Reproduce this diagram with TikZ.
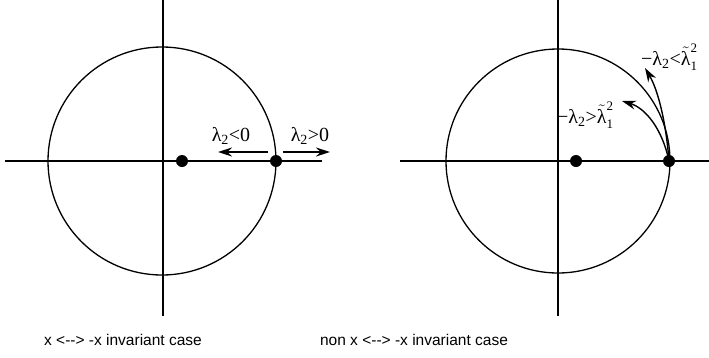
\documentclass[tikz,border=0pt]{standalone}
\usepackage{fontspec}
\setmainfont{Liberation Sans}[Ligatures=TeXOff]
\newfontfamily\serif{Liberation Serif}
\usetikzlibrary{arrows.meta}
\newcommand{\scr}[1]{\hbox{\serif\fontsize{13}{13}\selectfont #1}}
\newcommand{\tlam}{\ensuremath{\tilde{\hbox{λ}}^{\scr{2}}_{\scr{1}}}}
\tikzset{
  axis/.style={line width=1.3pt},
  circ/.style={line width=1.3pt},
  dotnode/.style={circle,fill=black,inner sep=0pt,minimum size=12pt},
  arr/.style={line width=1.4pt,-{Stealth[length=14pt,width=9pt]}},
  lab/.style={font=\serif\fontsize{20}{22}\selectfont,inner sep=0pt},
  captxt/.style={font=\fontsize{15.5}{18}\selectfont,inner sep=0pt}
}
\begin{document}
\begin{tikzpicture}[x=1pt,y=-1pt]
\useasboundingbox (0,0) rectangle (709,357);
% left
\coordinate (la1) at (5,161); \coordinate (la2) at (322,161);
\coordinate (lv1) at (163,0); \coordinate (lv2) at (163,316);
\draw[axis] (la1) -- (la2);
\draw[axis] (lv1) -- (lv2);
\draw[circ] (162,161) circle[radius=114];
\node[dotnode] (l1) at (182,161) {};
\node[dotnode] (l2) at (276,161) {};
\coordinate (lA1) at (268,152); \coordinate (lA2) at (218,152);
\coordinate (lB1) at (283,152); \coordinate (lB2) at (330,152);
\draw[arr] (lA1) -- (lA2);
\draw[arr] (lB1) -- (lB2);
\node[lab] (lt1) at (231,136) {λ\textsubscript{2}<0};
\node[lab] (lt2) at (310,136) {λ\textsubscript{2}>0};
\node[captxt] (c1) at (123,340) {x <--> -x invariant case};
% right
\coordinate (ra1) at (400,161); \coordinate (ra2) at (709,161);
\coordinate (rv1) at (558,0); \coordinate (rv2) at (558,316);
\draw[axis] (ra1) -- (ra2);
\draw[axis] (rv1) -- (rv2);
\draw[circ] (558,161) circle[radius=112];
\node[dotnode] (r1) at (576,161) {};
\node[dotnode] (r2) at (669,161) {};
\coordinate (rT1) at (645,68);
\coordinate (rT2) at (622,101);
\draw[arr] (r2.center) .. controls (666,122) and (658,90) .. (rT1);
\draw[arr] (r2.center) .. controls (662,128) and (645,108) .. (rT2);
\node[lab,anchor=west] (rt1) at (641,57) {−λ\textsubscript{2}<\tlam};
\node[lab,anchor=west] (rt2) at (557,115) {−λ\textsubscript{2}>\tlam};
\node[captxt] (c2) at (414,340) {non x <--> -x invariant case};
\end{tikzpicture}
\end{document}
